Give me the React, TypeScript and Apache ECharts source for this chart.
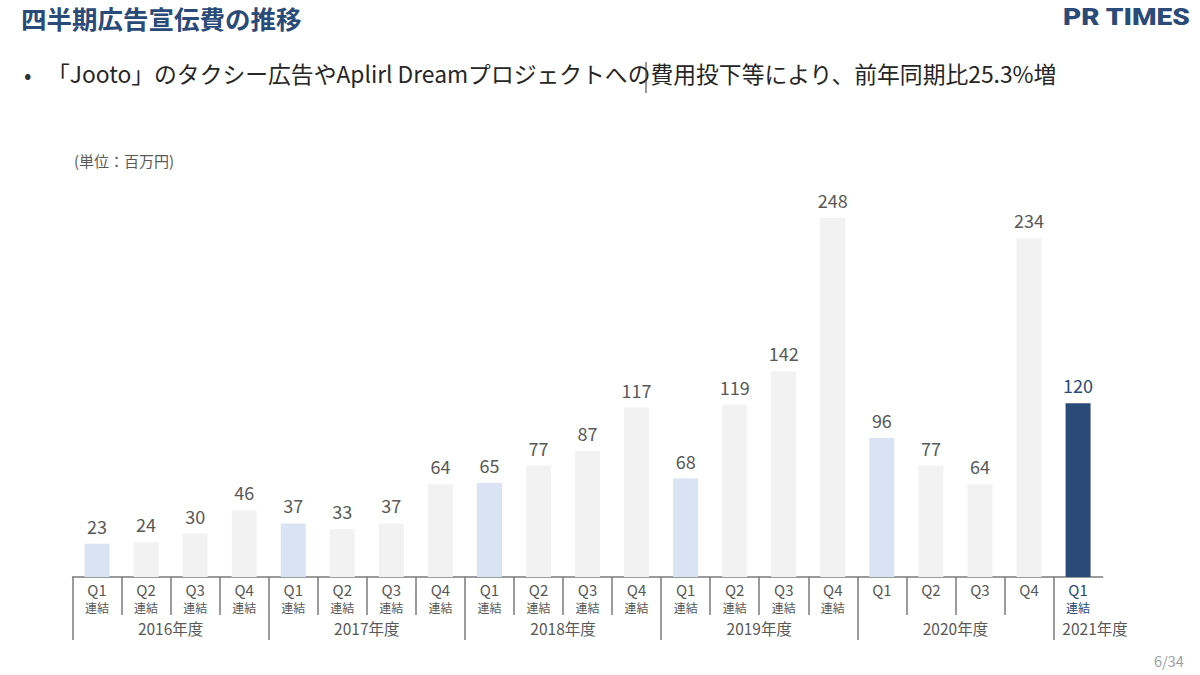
import React, { useEffect, useRef } from "react";
import * as echarts from "echarts";

const quarters = ["Q1","Q2","Q3","Q4","Q1","Q2","Q3","Q4","Q1","Q2","Q3","Q4","Q1","Q2","Q3","Q4","Q1","Q2","Q3","Q4","Q1"];
const values = [23,24,30,46,37,33,37,64,65,77,87,117,68,119,142,248,96,77,64,234,120];
const consolidated = [true,true,true,true,true,true,true,true,true,true,true,true,true,true,true,true,false,false,false,false,true];
const fiscalYears = ["2016年度","2017年度","2018年度","2019年度","2020年度","2021年度"];
const yearSizes = [4,4,4,4,4,1];

const FONT = "'Noto Sans CJK JP', 'Noto Sans', sans-serif";
const NAVY = "#2a4a78";
const GRAY_TXT = "#595959";

export default function App() {
  const ref = useRef<HTMLDivElement>(null);
  useEffect(() => {
    if (!ref.current) return;
    const chart = echarts.init(ref.current, null, { renderer: "svg" });
    const n = values.length;
    const last = n - 1;

    const boundaries: number[] = [];
    const centers: number[] = [];
    let acc = 0;
    yearSizes.forEach((s) => {
      boundaries.push(acc);
      centers.push(acc + s / 2);
      acc += s;
    });
    const quarterTicks: number[] = [];
    for (let i = 1; i < n; i++) if (!boundaries.includes(i)) quarterTicks.push(i);

    const barColor = (i: number) => {
      if (i === last) return NAVY;
      return quarters[i] === "Q1" ? "#dae3f3" : "#f2f2f2";
    };

    chart.setOption({
      animation: false,
      textStyle: { fontFamily: FONT },
      grid: { left: 72.5, right: 97.4, top: 142.6, bottom: 98, containLabel: false },
      xAxis: [
        {
          type: "category",
          data: quarters,
          boundaryGap: true,
          axisLine: { show: true, lineStyle: { color: "#7a7a7a", width: 1.5 } },
          axisTick: { show: false },
          axisLabel: {
            interval: 0,
            margin: 3,
            formatter: (v: string, i: number) => {
              const hl = i === last ? "b" : "";
              return consolidated[i] ? `{q${hl}|${v}}\n{c${hl}|連結}` : `{q${hl}|${v}}`;
            },
            rich: {
              q: { fontSize: 15, color: GRAY_TXT, lineHeight: 19, fontFamily: FONT },
              c: { fontSize: 12, color: GRAY_TXT, lineHeight: 16, fontFamily: FONT },
              qb: { fontSize: 15, color: NAVY, lineHeight: 19, fontFamily: FONT },
              cb: { fontSize: 12, color: NAVY, lineHeight: 16, fontFamily: FONT },
            },
          },
        },
        {
          type: "value",
          min: 0,
          max: n,
          position: "bottom",
          axisLine: { show: false },
          splitLine: { show: false },
          axisLabel: { show: false },
          axisTick: {
            show: true,
            length: 38,
            customValues: quarterTicks,
            lineStyle: { color: "#7a7a7a", width: 1.5 },
          },
        },
        {
          type: "value",
          min: 0,
          max: n,
          position: "bottom",
          axisLine: { show: false },
          splitLine: { show: false },
          axisTick: {
            show: true,
            length: 63,
            customValues: boundaries,
            lineStyle: { color: "#7a7a7a", width: 1.5 },
          },
          axisLabel: {
            show: true,
            margin: 43,
            customValues: centers,
            fontFamily: FONT,
            formatter: (v: number) => {
              const idx = centers.findIndex((c) => Math.abs(c - v) < 1e-6);
              if (idx < 0) return "";
              return idx === fiscalYears.length - 1 ? `{yl|${fiscalYears[idx]}}` : `{y|${fiscalYears[idx]}}`;
            },
            rich: {
              y: { fontSize: 15.5, color: GRAY_TXT, fontFamily: FONT },
              yl: { fontSize: 15.5, color: GRAY_TXT, fontFamily: FONT, padding: [0, 0, 0, 34] },
            },
          },
        },
      ],
      yAxis: {
        type: "value",
        min: 0,
        max: 300,
        show: false,
        splitLine: { show: false },
      },
      series: [
        {
          type: "bar",
          xAxisIndex: 0,
          barWidth: 25,
          data: values.map((v, i) => ({
            value: v,
            itemStyle: { color: barColor(i) },
            label: { color: i === last ? NAVY : GRAY_TXT },
          })),
          label: {
            show: true,
            position: "top",
            distance: 9,
            fontSize: 18,
            fontFamily: FONT,
          },
        },
      ],
      graphic: [
        {
          type: "text",
          left: 21,
          top: 5,
          style: { text: "四半期広告宣伝費の推移", font: `bold 25.5px ${FONT}`, fill: NAVY },
        },
        {
          type: "text",
          x: 1063,
          y: 5,
          scaleX: 1.17,
          style: { text: "PR TIMES", font: `900 24px Roboto, 'DejaVu Sans', sans-serif`, fill: NAVY },
        },
        {
          type: "text",
          left: 24,
          top: 62,
          style: { text: "•", font: `22px ${FONT}`, fill: "#333333" },
        },
        {
          type: "text",
          left: 47,
          top: 62,
          style: {
            text: "「Jooto」のタクシー広告やAplirl Dreamプロジェクトへの費用投下等により、前年同期比25.3%増",
            font: `22.8px ${FONT}`,
            fill: "#262626",
          },
        },
        {
          type: "line",
          shape: { x1: 646, y1: 62, x2: 646, y2: 93 },
          style: { stroke: "#333333", lineWidth: 1 },
        },
        {
          type: "text",
          left: 74,
          top: 153,
          style: { text: "(単位：百万円)", font: `15px ${FONT}`, fill: GRAY_TXT },
        },
        {
          type: "text",
          left: 1154,
          top: 653,
          style: { text: "6/34", font: `14.5px ${FONT}`, fill: "#9aa0a6" },
        },
      ],
    });
    return () => chart.dispose();
  }, []);
  return (
    <div
      ref={ref}
      style={{ position: "absolute", left: 0, top: 0, width: 1200, height: 675, background: "#ffffff" }}
    />
  );
}
